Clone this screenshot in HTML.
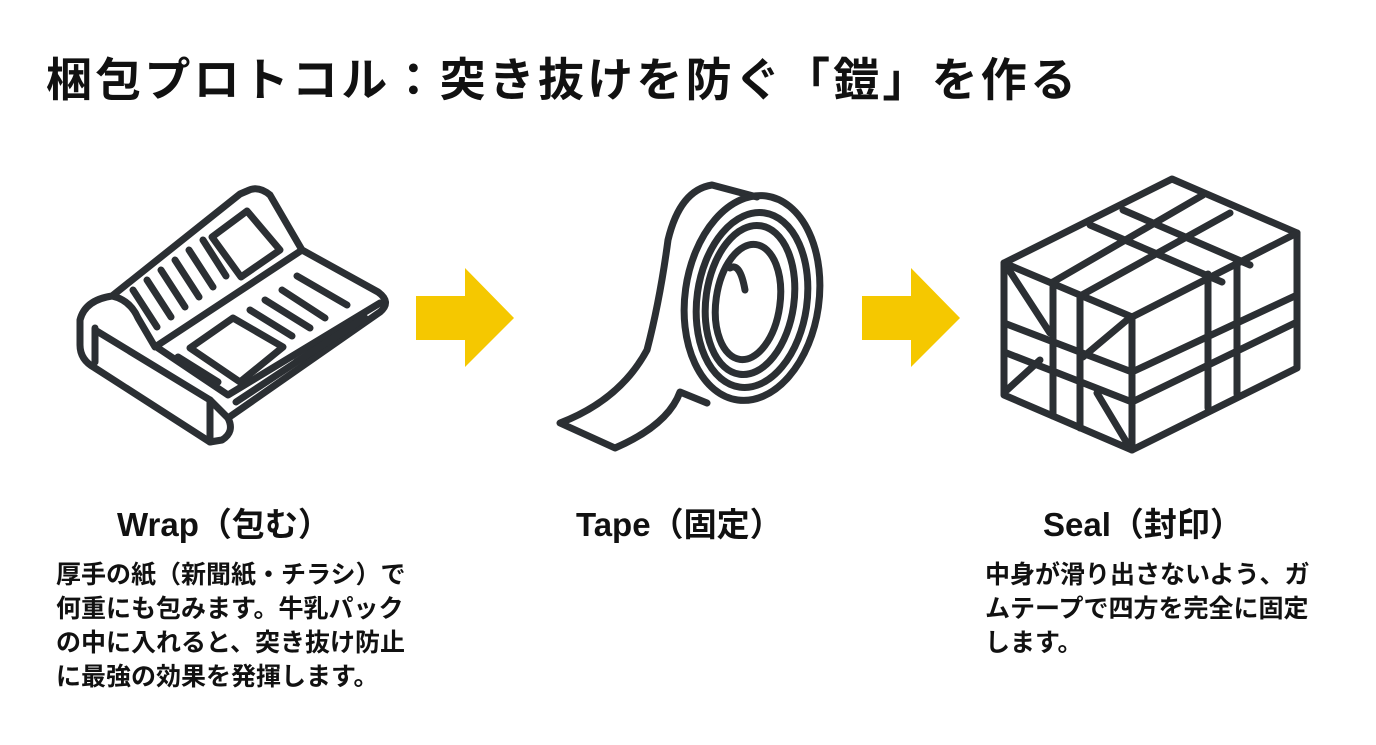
<!DOCTYPE html>
<html><head><meta charset="utf-8"><style>
body{margin:0;width:1376px;height:745px;background:#fff;overflow:hidden;position:relative;font-family:"Liberation Sans","Noto Sans CJK JP",sans-serif;color:#111}
.t{position:absolute;left:46px;top:44px;font-size:46px;font-weight:bold;letter-spacing:3.2px;white-space:nowrap}
.l{position:absolute;font-size:33px;font-weight:bold;white-space:nowrap}
.d{position:absolute;font-size:25px;line-height:34px;font-weight:bold;white-space:nowrap}
svg{position:absolute;left:0;top:0}
</style></head><body>
<div class="t">梱包プロトコル：突き抜けを防ぐ「鎧」を作る</div>
<svg width="1376" height="745" fill="none" stroke="#2b2f33" stroke-width="7" stroke-linejoin="round" stroke-linecap="round">
<path d="M247,191 Q258,185 270,195 L302,250 L378,292 Q392,302 380,312 L228,418 Q235,432 222,440 L210,442 L95,368 Q80,360 80,345 L80,320 Q85,300 112,296 L240,194 Z"/>
<path d="M112,296 Q130,300 138,318 L155,347 L302,250"/>
<path d="M95,328 L95,362 M95,330 L210,400 L228,418"/>
<path d="M158,348 L228,395 L380,303"/>
<path d="M210,400 L210,442"/>
<path d="M212,237 L247,211 L280,250 L241,277 Z"/>
<path d="M133,290 L157,327 M147,280 L171,317 M161,270 L185,307 M175,260 L199,297 M189,250 L213,287 M203,240 L226,276"/>
<path d="M190,348 L233,318 L283,347 L240,382 Z"/>
<path d="M178,357 L218,382 M250,310 L292,336 M265,300 L310,328 M282,290 L325,318 M297,276 L347,305 M296,362 L365,318 M236,402 L363,318"/>
<path d="M416,296 H465 V268 L514,318 L465,367 V340 H416 Z" fill="#f5c800" stroke="none"/>
<path d="M862,296 H911 V268 L960,318 L911,367 V340 H862 Z" fill="#f5c800" stroke="none"/>
<path d="M757,197 L712,185 Q680,190 668,240 Q660,300 647,350 Q620,400 560,423 L615,448 Q668,425 680,392 L707,403"/>
<ellipse cx="752" cy="298" rx="67" ry="103" transform="rotate(8 752 298)"/>
<ellipse cx="752" cy="300" rx="55" ry="88" transform="rotate(8 752 300)"/>
<ellipse cx="750" cy="300" rx="44" ry="75" transform="rotate(8 750 300)"/>
<ellipse cx="748" cy="302" rx="32" ry="58" transform="rotate(8 748 302)"/>
<path d="M730,268 Q740,262 745,290"/>
<path d="M1172,179 L1297,233 L1297,368 L1132,450 L1004,395 L1004,263 Z"/>
<path d="M1004,263 L1132,317 L1297,233 M1132,317 L1132,450"/>
<path d="M1090,225 L1222,282 M1123,210 L1250,265 M1053,282 L1203,195 M1080,296 L1230,213"/>
<path d="M1053,282 L1053,416 M1080,296 L1080,428 M1208,274 L1208,408 M1237,262 L1237,394"/>
<path d="M1004,323 L1132,372 L1297,295 M1004,352 L1132,402 L1297,322"/>
<path d="M1009,270 L1050,333 M1127,320 L1083,357 M1007,390 L1040,360 M1097,393 L1127,443"/>
</svg>
<div class="l" style="left:117px;top:498px">Wrap（包む）</div>
<div class="l" style="left:576px;top:498px">Tape（固定）</div>
<div class="l" style="left:1043px;top:498px">Seal（封印）</div>
<div class="d" style="left:56px;top:558px">厚手の紙（新聞紙・チラシ）で<br>何重にも包みます。牛乳パック<br>の中に入れると、突き抜け防止<br>に最強の効果を発揮します。</div>
<div class="d" style="left:985px;top:558px">中身が滑り出さないよう、ガ<br>ムテープで四方を完全に固定<br>します。</div>
</body></html>
